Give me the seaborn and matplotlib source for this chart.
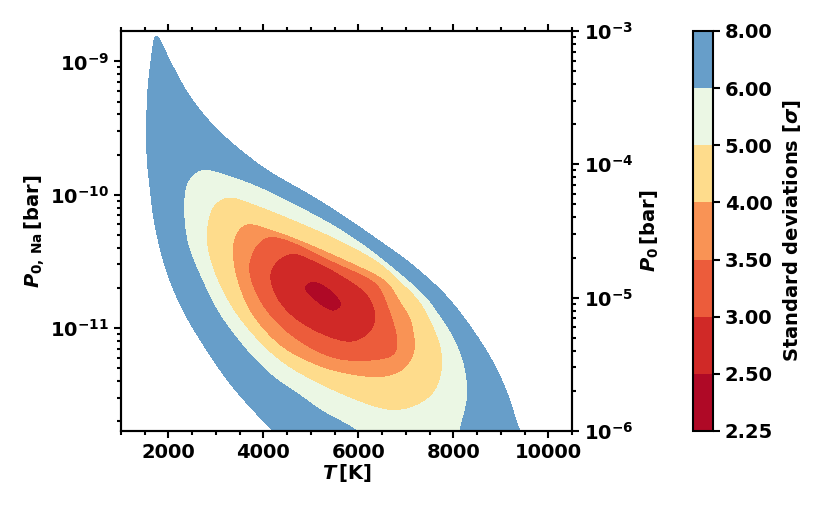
import numpy as np
import matplotlib
matplotlib.use("Agg")
import matplotlib.pyplot as plt
from matplotlib.path import Path
from matplotlib.ticker import MultipleLocator, LogLocator, NullFormatter
import seaborn as sns

# ---------------- data ----------------
# colour levels (standard deviations)
levels = [2.25, 2.5, 3.0, 3.5, 4.0, 5.0, 6.0, 8.0]

# traced iso-sigma contours: temperature [K] and log10 of P0 [bar]
T_8 = [1741, 1629, 1558, 1545, 1558, 1604, 1684, 1825, 2036, 2352, 2773, 3299, 3888, 4225, 4600,
       9600, 9389, 9158, 8836, 8394, 7846, 7088, 6625, 5615, 4914, 4246, 3789, 2983, 2421, 2036]
logP0_8 = [-3.032, -3.227, -3.478, -3.728, -3.977, -4.118, -4.367, -4.618, -4.868, -5.117, -5.368, -5.640, -5.880, -6.000, -6.15,
           -6.15, -6.000, -5.743, -5.492, -5.243, -4.993, -4.748, -4.628, -4.380, -4.223, -4.088, -3.977, -3.728, -3.478, -3.227]

T_6 = [2703, 2436, 2352, 2316, 2320, 2352, 2436, 2703, 3053, 3579, 3825, 4288, 4710, 5194, 5973, 6450,
       8080, 8141, 8309, 8246, 8141, 7973, 7720, 7446, 7131, 6625, 6288, 5615, 4773, 3861, 3158]
logP0_6 = [-4.028, -4.095, -4.155, -4.268, -4.393, -4.515, -4.643, -4.868, -5.117, -5.368, -5.468, -5.618, -5.717, -5.843, -6.000, -6.15,
           -6.15, -6.000, -5.745, -5.505, -5.393, -5.265, -5.130, -4.995, -4.890, -4.740, -4.643, -4.478, -4.313, -4.155, -4.067]

T_5 = [3229, 2920, 2836, 2794, 2815, 3019, 3404, 4000, 4457, 4920, 5615, 6309, 6667, 7046, 7341, 7594,
       7741, 7783, 7741, 7552, 7298, 6941, 6457, 5615, 4562, 3861]
logP0_5 = [-4.238, -4.313, -4.395, -4.515, -4.643, -4.868, -5.117, -5.368, -5.505, -5.603, -5.723, -5.818, -5.848, -5.835, -5.790, -5.723,
           -5.603, -5.483, -5.355, -5.183, -5.018, -4.890, -4.733, -4.568, -4.403, -4.305]

T_4 = [3615, 3383, 3341, 3383, 3488, 3720, 4352, 5124, 5615, 6099, 6604, 6962, 7131, 7215, 7172, 7109,
       6878, 6667, 6457, 5888, 5131, 4773, 4204]
logP0_4 = [-4.440, -4.538, -4.658, -4.793, -4.928, -5.117, -5.368, -5.513, -5.565, -5.595, -5.595, -5.543, -5.468, -5.370, -5.243, -5.145,
           -5.018, -4.890, -4.838, -4.740, -4.620, -4.568, -4.493]

T_35 = [4072, 3684, 3861, 4421, 5335, 6036, 6794, 6836, 6773, 6667, 6499, 6373, 5552]
logP0_35 = [-4.538, -4.742, -4.993, -5.243, -5.443, -5.480, -5.430, -5.318, -5.205, -5.093, -4.943, -4.883, -4.740]

T_3 = [4562, 4141, 4246, 4773, 5825, 6204, 6373, 6331, 6162, 5825, 5194]
logP0_3 = [-4.663, -4.793, -4.993, -5.192, -5.338, -5.280, -5.183, -5.055, -4.958, -4.868, -4.740]

T_25 = [4842, 5110, 5474, 5663, 5440, 5053]
logP0_25 = [-4.920, -5.033, -5.105, -5.055, -4.943, -4.873]

T_best, logP0_best, sigma_best = 5246, -4.988, 2.35

na_fraction = 1.69e-6          # P0,Na = P0 * na_fraction
T_range = (1000, 10500)
P0_range = (1e-6, 1e-3)

# (level, T, logP0, smoothing length, index of a sharp vertex or None)
contours = [(2.5, T_25, logP0_25, 0.8, None), (3.0, T_3, logP0_3, 3.5, None),
            (3.5, T_35, logP0_35, 4.5, None), (4.0, T_4, logP0_4, 5.0, None),
            (5.0, T_5, logP0_5, 6.0, None), (6.0, T_6, logP0_6, 6.5, None),
            (8.0, T_8, logP0_8, 6.5, 0)]

# ---------------- build a smooth sigma surface through the traced contours ----------------
def to_xy(T, lp):
    return (np.asarray(T, float) - 1000.0) / 9500.0 * 451.0, (np.asarray(lp, float) + 6.0) / 3.0 * 400.0

def catmull_rom(x, y, n_sub=10, alpha=0.5):
    P = np.column_stack([x, y])
    n = len(P)
    out = []
    for i in range(n):
        p0, p1, p2, p3 = P[(i - 1) % n], P[i], P[(i + 1) % n], P[(i + 2) % n]
        t0 = 0.0
        t1 = t0 + np.linalg.norm(p1 - p0) ** alpha + 1e-9
        t2 = t1 + np.linalg.norm(p2 - p1) ** alpha + 1e-9
        t3 = t2 + np.linalg.norm(p3 - p2) ** alpha + 1e-9
        for t in np.linspace(t1, t2, n_sub, endpoint=False):
            a1 = (t1 - t) / (t1 - t0) * p0 + (t - t0) / (t1 - t0) * p1
            a2 = (t2 - t) / (t2 - t1) * p1 + (t - t1) / (t2 - t1) * p2
            a3 = (t3 - t) / (t3 - t2) * p2 + (t - t2) / (t3 - t2) * p3
            b1 = (t2 - t) / (t2 - t0) * a1 + (t - t0) / (t2 - t0) * a2
            b2 = (t3 - t) / (t3 - t1) * a2 + (t - t1) / (t3 - t1) * a3
            out.append((t2 - t) / (t2 - t1) * b1 + (t - t1) / (t2 - t1) * b2)
    out = np.array(out)
    return out[:, 0], out[:, 1]

def smooth_closed(x, y, sig, sharp=None):
    if sharp is not None:
        x = np.roll(x, -sharp); y = np.roll(y, -sharp)
    cx_, cy_ = catmull_rom(x, y)
    xs = np.append(cx_, cx_[0]); ys = np.append(cy_, cy_[0])
    s = np.concatenate([[0], np.cumsum(np.hypot(np.diff(xs), np.diff(ys)))])
    L = s[-1]
    N = max(int(L), 60)
    su = np.linspace(0, L, N, endpoint=False)
    xu = np.interp(su, s, xs); yu = np.interp(su, s, ys)
    d = np.abs(su[:, None] - su[None, :])
    d = np.minimum(d, L - d)
    sig_i = np.full(N, float(sig))
    if sharp is not None:
        dt = np.minimum(su, L - su)
        sig_i = sig * np.clip(dt / (4.0 * sig), 0.08, 1.0)
    w = np.exp(-0.5 * (d / sig_i[:, None]) ** 2)
    w /= w.sum(1, keepdims=True)
    return w @ xu, w @ yu

nT, nP = 560, 500
Tg = np.linspace(T_range[0], T_range[1], nT)
lpg = np.linspace(np.log10(P0_range[0]), np.log10(P0_range[1]), nP)
TT, LP = np.meshgrid(Tg, lpg)
gx, gy = to_xy(TT.ravel(), LP.ravel())
pts = np.column_stack([gx, gy])

def poly_dist(px, py, vx, vy):
    d2 = np.full(px.shape, np.inf)
    n = len(vx)
    for i in range(n):
        x1, y1 = vx[i], vy[i]
        x2, y2 = vx[(i + 1) % n], vy[(i + 1) % n]
        dx, dy = x2 - x1, y2 - y1
        ex, ey = px - x1, py - y1
        t = np.clip((ex * dx + ey * dy) / (dx * dx + dy * dy + 1e-12), 0, 1)
        ex -= t * dx
        ey -= t * dy
        np.minimum(d2, ex * ex + ey * ey, out=d2)
    return np.sqrt(d2)

lv, D, I = [], [], []
for s, T_c, lp_c, sm, sharp in contours:
    vx, vy = smooth_closed(*to_xy(T_c, lp_c), sm, sharp)
    vx, vy = vx[::2], vy[::2]
    lv.append(s)
    D.append(poly_dist(gx, gy, vx, vy))
    I.append(Path(np.column_stack([vx, vy])).contains_points(pts))

sig = np.empty(gx.shape)
out = ~I[-1]
sig[out] = lv[-1] + D[-1][out] / 40.0
for k in range(len(lv) - 1, 0, -1):
    m = I[k] & ~I[k - 1]
    sig[m] = lv[k - 1] + (lv[k] - lv[k - 1]) * D[k - 1][m] / (D[k - 1][m] + D[k][m])
cx, cy = to_xy(T_best, logP0_best)
r = np.hypot(gx - cx, gy - cy)
m = I[0]
sig[m] = sigma_best + (lv[0] - sigma_best) * r[m] / (r[m] + D[0][m])
SIG = sig.reshape(TT.shape)

def blur(a, s):
    k = np.arange(-int(3 * s) - 1, int(3 * s) + 2)
    w = np.exp(-0.5 * (k / s) ** 2); w /= w.sum()
    pad = len(k) // 2
    a = np.pad(a, pad, mode='edge')
    a = np.apply_along_axis(lambda v: np.convolve(v, w, mode='same'), 0, a)
    a = np.apply_along_axis(lambda v: np.convolve(v, w, mode='same'), 1, a)
    return a[pad:-pad, pad:-pad]

SIG = blur(SIG, 1.2)

# ---------------- plotting ----------------
sns.set_style("ticks")
plt.rcParams.update({
    'font.family': ['DejaVu Sans'],
    'font.weight': 'bold',
    'font.size': 14,
    'text.color': 'black',
    'axes.labelcolor': 'black',
    'axes.edgecolor': 'black',
    'xtick.color': 'black',
    'ytick.color': 'black',
    'axes.labelweight': 'bold',
    'axes.linewidth': 1.5,
    'mathtext.fontset': 'custom',
    'mathtext.rm': 'DejaVu Sans:bold',
    'mathtext.it': 'DejaVu Sans:italic:bold',
    'mathtext.bf': 'DejaVu Sans:bold',
    'mathtext.default': 'it',
})

cmap = sns.color_palette("RdYlBu", as_cmap=True)

fig = plt.figure(figsize=(8.3, 5.09), dpi=100)
W, H = 830.0, 509.0
ax = fig.add_axes([121 / W, 1 - 431 / H, 451 / W, 400 / H])
cs = ax.contourf(TT, 10 ** LP * na_fraction, SIG, levels=levels, cmap=cmap)
ax.set_yscale('log')
ax.set_xlim(*T_range)
ax.set_ylim(P0_range[0] * na_fraction, P0_range[1] * na_fraction)
ax.xaxis.set_major_locator(MultipleLocator(2000))
ax.xaxis.set_minor_locator(MultipleLocator(500))
ax.yaxis.set_major_locator(LogLocator(base=10))
ax.yaxis.set_minor_locator(LogLocator(base=10, subs=np.arange(2, 10)))
ax.yaxis.set_minor_formatter(NullFormatter())
ax.tick_params(which='both', direction='out', width=1.5, top=True, labelsize=14, colors='black')
ax.tick_params(which='major', length=5)
ax.tick_params(which='minor', length=3)
ax.set_xlabel(r'$T\,$[K]', fontsize=14, fontweight='bold', labelpad=0)
ax.set_ylabel(r'$P_{\mathrm{0,\,Na}}\,$[bar]', fontsize=14, fontweight='bold', labelpad=2)

ax2 = ax.twinx()
ax2.set_yscale('log')
ax2.set_ylim(*P0_range)
ax2.yaxis.set_minor_formatter(NullFormatter())
ax2.tick_params(which='both', direction='out', width=1.5, labelsize=14, colors='black')
ax2.tick_params(which='major', length=5)
ax2.tick_params(which='minor', length=3)
ax2.set_ylabel(r'$P_0\,$[bar]', fontsize=14, fontweight='bold', labelpad=4)
for a in (ax, ax2):
    for sp in a.spines.values():
        sp.set_linewidth(1.5)
        sp.set_color('black')
    a.xaxis.get_offset_text().set_visible(False)
    a.yaxis.get_offset_text().set_visible(False)
for lab in ax.get_xticklabels() + ax.get_yticklabels() + ax2.get_yticklabels():
    lab.set_fontweight('bold')

cax = fig.add_axes([693 / W, 1 - 431 / H, 20 / W, 400 / H])
cb = fig.colorbar(cs, cax=cax)
cb.set_ticks(levels)
cb.set_ticklabels(['%.2f' % v for v in levels])
cb.outline.set_linewidth(1.5)
cb.outline.set_edgecolor('black')
cax.tick_params(width=1.5, length=5, labelsize=14, colors='black')
for lab in cax.get_yticklabels():
    lab.set_fontweight('bold')
cb.set_label(r'Standard deviations [$\sigma$]', fontsize=14, fontweight='bold', labelpad=6)

fig.savefig('out.png', dpi=100)
